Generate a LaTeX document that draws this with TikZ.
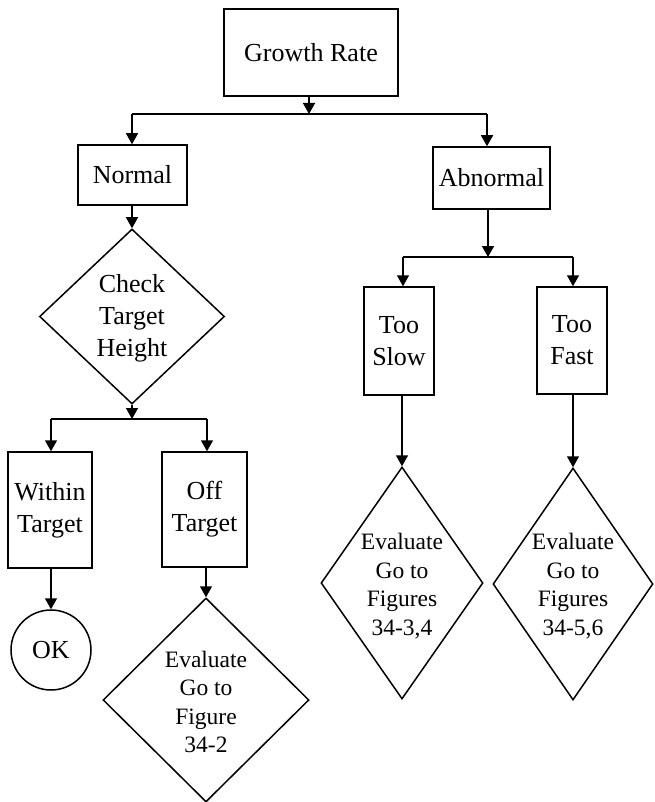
\documentclass[tikz,border=0pt]{standalone}
\usepackage{fontspec}
\setmainfont{Liberation Serif}
\usetikzlibrary{arrows.meta,shapes.geometric}
\begin{document}
\begin{tikzpicture}[x=1pt,y=-1pt,
  line width=1.5pt,
  box/.style={draw,rectangle,inner sep=0pt,align=center,
    font=\fontsize{26}{32}\selectfont},
  dia/.style={draw,diamond,inner sep=0pt},
  diatext/.style={inner sep=0pt,align=center},
  big/.style={font=\fontsize{26}{32}\selectfont},
  small/.style={font=\fontsize{23.5}{28.5}\selectfont},
  arr/.style={-{Triangle[width=12pt,length=11pt]}},
]
\useasboundingbox (0,0) rectangle (654,802);

% boxes
\node[box,minimum width=174pt,minimum height=87pt] (gr) at (311,52.5) {Growth Rate};
\node[box,minimum width=109pt,minimum height=60pt] (nor) at (132.5,175) {Normal};
\node[box,minimum width=117pt,minimum height=62pt] (abn) at (491.5,178) {Abnormal};
\node[box,minimum width=70pt,minimum height=108pt] (slow) at (399,341) {Too\\Slow};
\node[box,minimum width=70pt,minimum height=107pt] (fast) at (572,340.5) {Too\\Fast};
\node[box,minimum width=84pt,minimum height=116pt] (within) at (50,510) {Within\\Target};
\node[box,minimum width=85pt,minimum height=115pt] (off) at (204.5,509.5) {Off\\Target};

% terminal
\node[draw,circle,inner sep=0pt,minimum size=80pt,big] (ok) at (51,650) {OK};

% decisions
\node[dia,minimum width=185pt,minimum height=175pt] (chk) at (132,316.5) {};
\node[diatext,big] (chkt) at (132,318) {Check\\Target\\Height};
\node[dia,minimum width=206pt,minimum height=204pt] (ev1) at (206,700) {};
\node[diatext,small] (ev1t) at (206,702) {Evaluate\\Go to\\Figure\\34-2};
\node[dia,minimum width=162pt,minimum height=232pt] (ev2) at (402,583) {};
\node[diatext,small] (ev2t) at (402,586) {Evaluate\\Go to\\Figures\\34-3,4};
\node[dia,minimum width=160pt,minimum height=232pt] (ev3) at (573,584) {};
\node[diatext,small] (ev3t) at (573,586) {Evaluate\\Go to\\Figures\\34-5,6};

% junctions
\coordinate (j1) at (309,114);
\coordinate (j1l) at (132,114);
\coordinate (j1r) at (487,114);
\coordinate (j2) at (132,419);
\coordinate (j2l) at (51,419);
\coordinate (j2r) at (207,419);
\coordinate (j3) at (488,257);
\coordinate (j3l) at (403,257);
\coordinate (j3r) at (573,257);

% connectors
\draw[arr] (j1 |- gr.south) -- (j1);
\draw (j1l) -- (j1r);
\draw[arr] (j1l) -- (j1l |- nor.north);
\draw[arr] (j1r) -- (j1r |- abn.north);

\draw[arr] (chk.north |- nor.south) -- (chk.north);
\draw[arr] (chk.south) -- (j2);
\draw (j2l) -- (j2r);
\draw[arr] (j2l) -- (j2l |- within.north);
\draw[arr] (j2r) -- (j2r |- off.north);
\draw[arr] (ok.north |- within.south) -- (ok.north);
\draw[arr] (ev1.north |- off.south) -- (ev1.north);

\draw[arr] (j3 |- abn.south) -- (j3);
\draw (j3l) -- (j3r);
\draw[arr] (j3l) -- (j3l |- slow.north);
\draw[arr] (j3r) -- (j3r |- fast.north);
\draw[arr] (ev2.north |- slow.south) -- (ev2.north);
\draw[arr] (ev3.north |- fast.south) -- (ev3.north);
\end{tikzpicture}
\end{document}
